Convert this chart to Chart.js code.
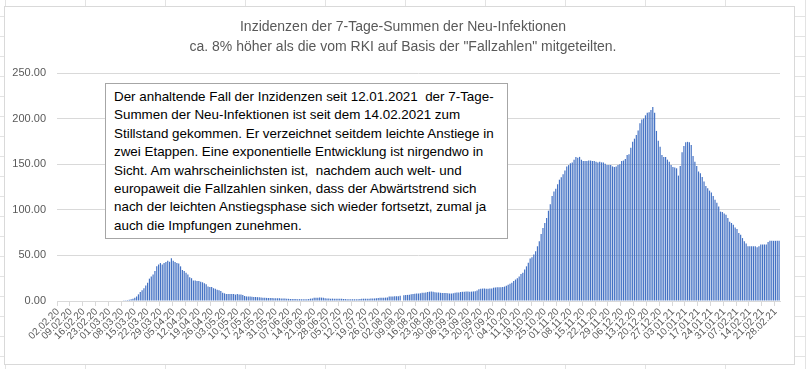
<!DOCTYPE html>
<html lang="de">
<head>
    <meta charset="UTF-8">
    <title>Inzidenzen 7-Tage-Summen</title>
    <script src="https://cdn.jsdelivr.net/npm/chart.js"></script>
    <style>
        html, body { margin: 0; padding: 0; background: #fff; }
        #page {
            position: relative; width: 806px; height: 369px; overflow: hidden;
            background-color: #fff;
            background-image:
                linear-gradient(to right, #e3e3e3 1px, transparent 1px),
                linear-gradient(to bottom, #e3e3e3 1px, transparent 1px);
            background-size: 80px 20px;
            background-position: 5px 16px;
        }
        #frame {
            position: absolute; left: 4px; top: 6px; width: 789px; height: 357px;
            background: #fff; border: 1px solid #d9d9d9;
        }
        #chartWrap { position: absolute; left: 0; top: 0; width: 806px; height: 369px; }
        .title {
            position: absolute; left: 0; width: 806px; text-align: center; line-height: 18px;
            font-family: "Liberation Sans", Arial, sans-serif; font-size: 14px; color: #595959;
        }
        #note {
            position: absolute; left: 105px; top: 83px; width: 393px; height: 150px;
            border: 1px solid #a6a6a6; background: #fff;
            padding: 4px 0 0 8px;
            font-family: "Liberation Sans", Arial, sans-serif; font-size: 13.4px; line-height: 18.4px;
            color: #000; white-space: pre;
        }
    </style>
</head>
<body>
<div id="page">
    <div id="frame"></div>
    <div id="chartWrap"><canvas id="incidenceChart" width="806" height="369"></canvas></div>
    <div class="title" style="top:17px">Inzidenzen der 7-Tage-Summen der Neu-Infektionen</div>
    <div class="title" style="top:37px">ca. 8% höher als die vom RKI auf Basis der "Fallzahlen" mitgeteilten.</div>
    <div id="note">Der anhaltende Fall der Inzidenzen seit 12.01.2021  der 7-Tage-
Summen der Neu-Infektionen ist seit dem 14.02.2021 zum
Stillstand gekommen. Er verzeichnet seitdem leichte Anstiege in
zwei Etappen. Eine exponentielle Entwicklung ist nirgendwo in
Sicht. Am wahrscheinlichsten ist,  nachdem auch welt- und
europaweit die Fallzahlen sinken, dass der Abwärtstrend sich
nach der leichten Anstiegsphase sich wieder fortsetzt, zumal ja
auch die Impfungen zunehmen.</div>
</div>

<script>
    // first day of the series, one bar per day
    const startDate = Date.UTC(2020, 1, 2);

    // 02.02.20 - 08.03.20
    const febMar = [0, 0, 0, 0, 0, 0, 0, 0, 0, 0, 0, 0, 0, 0, 0, 0, 0, 0,
        0, 0, 0, 0, 0, 0, 0, 0, 0, 0, 0, 0, 0, 0, 0, 0, 0, 0];
    // 09.03.20 - 15.05.20 (first wave)
    const spring = [0.7, 0.7, 1.0, 1.5, 1.8, 2.5, 3.6, 5.0, 7.3, 10.0,
        11.7, 14, 17, 20, 24.5, 27, 29, 33, 38, 40,
        41.6, 40, 41.6, 42.7, 44, 43, 46.8, 44, 42.7, 41.6,
        41, 38, 34, 33, 31, 29, 26, 25, 22.6, 22.6,
        22, 22, 21, 20.5, 19.4, 18.3, 16, 15.3, 15.3, 14,
        13.5, 12.4, 11.7, 11, 9, 8.4, 7.7, 7.7, 7.7, 7.7,
        7.7, 7, 7.7, 7, 7, 6.6, 5.5, 5, 5];
    // 16.05.20 - 17.09.20
    const summer = [4.8, 4.6, 4.4, 4.4, 4.2, 4.0, 3.8, 3.6, 3.5, 3.4, 3.3, 3.3, 3.2, 3.1, 3.0, 3.0, 2.9, 2.8, 2.8, 2.7, 2.6,
        2.4, 2.3, 2.3, 2.2, 2.1, 2.0, 2.0,
        1.9, 1.9, 1.9, 2.0, 2.2,
        2.6, 2.7,
        3.6, 3.7, 3.7, 3.8, 3.7, 3.6,
        3.0, 2.8, 2.7, 2.6, 2.6, 2.5, 2.5, 2.5, 2.4, 2.4,
        2.2, 2.1, 2.0, 2.0, 1.9, 1.9, 1.9, 2.0, 2.0, 2.1,
        2.4, 2.5, 2.5, 2.6, 2.6, 2.7, 2.7, 2.8, 2.9,
        3.4, 3.5, 3.6, 3.6, 3.7, 3.8,
        4.8, 5.0, 5.0, 5.1, 5.2, 5.2, 5.8,
        0,
        6.4, 6.6, 6.7, 6.8,
        7.5, 7.8, 8.0, 8.1, 8.2, 8.4,
        9.0, 9.1, 9.2,
        10.0, 10.2, 10.3, 10.2,
        9.6, 9.3, 9.2, 9.0,
        8.9, 8.8, 8.7, 8.6,
        8.3, 8.2, 8.4,
        9.0, 9.2, 9.4, 9.8,
        10.1, 10.2, 10.3, 10.3, 10.2, 10.3, 10.5, 10.8, 11.5];
    // 18.09.20 - 22.12.20 (second wave)
    const autumn = [13.0, 13.4, 13.6, 13.6, 13.5, 13.5, 13.6, 13.8,
        14.6, 14.9, 15.0, 15.0, 15.2, 15.4, 15.8,
        16.8, 17.8, 18.8, 20.0, 22.0,
        23.5, 25.0, 27.0, 29.5, 31.0, 34.5, 38.0, 42.0,
        46.5, 48, 51, 54.5, 60, 65.5, 73.5, 80, 85.5, 91,
        99, 106, 115, 120, 123, 128, 133, 135.6, 139, 143,
        147.6, 149, 151, 152, 155, 158, 157, 158, 155, 153.5,
        153.5, 153.5, 154, 154, 153.5, 153.5, 152.7, 152, 152.7, 152, 152, 150.5,
        149, 149, 149, 147.6, 147, 147.6, 149, 150, 153.5, 154,
        155.6, 160, 161, 168, 174.5, 178, 182, 187, 195, 199,
        200, 203.6, 206.5, 207, 209.5, 212.7];
    // 23.12.20 - 02.03.21
    const winter = [206.5, 186.5, 175.6, 169, 160, 158, 158, 155, 152.7, 149,
        147, 146.5, 145.5, 137.5, 148, 163, 170, 174, 174.5, 174,
        171, 159, 152.7, 148, 142, 140, 136, 131, 126, 123.6,
        121, 119, 115, 111, 107.6, 103.6, 98, 97.5, 96, 94.5,
        91, 87, 85.5, 83.6, 80.7, 79, 74.5, 72.7, 69, 65.5,
        63, 60, 60, 60, 60, 60, 59, 60, 62, 62,
        62, 62, 64.7, 66, 66, 66, 66, 66, 66];

    const incidence = [].concat(febMar, spring, summer, autumn, winter);

    function fmtDate(ms) {
        const d = new Date(ms);
        const dd = String(d.getUTCDate()).padStart(2, '0');
        const mm = String(d.getUTCMonth() + 1).padStart(2, '0');
        const yy = String(d.getUTCFullYear()).slice(2);
        return `${dd}.${mm}.${yy}`;
    }
    const days = incidence.map((v, i) => fmtDate(startDate + i * 86400000));

    const gray = '#595959';
    const gridGray = '#d9d9d9';
    const fontFamily = '"Liberation Sans", Arial, sans-serif';

    const ctx = document.getElementById('incidenceChart').getContext('2d');
    new Chart(ctx, {
        type: 'bar',
        data: {
            labels: days,
            datasets: [{
                label: 'Inzidenz',
                data: incidence,
                backgroundColor: '#4472C4',
                borderWidth: 0,
                categoryPercentage: 1.0,
                barPercentage: 0.65
            }]
        },
        options: {
            responsive: false,
            animation: false,
            layout: { padding: { top: 73, right: 26, left: 0, bottom: 0 } },
            plugins: {
                legend: { display: false },
                tooltip: { enabled: false }
            },
            scales: {
                x: {
                    type: 'category',
                    afterFit: (scale) => { scale.height = 68; },
                    grid: {
                        drawOnChartArea: false,
                        tickLength: 5,
                        color: (c) => (c.index % 7 === 0 ? gridGray : 'rgba(0,0,0,0)')
                    },
                    border: { color: gridGray },
                    ticks: {
                        autoSkip: false,
                        maxRotation: 45,
                        minRotation: 45,
                        padding: 0,
                        color: gray,
                        font: { family: fontFamily, size: 10 },
                        callback: function (value, index) {
                            return index % 7 === 0 ? this.getLabelForValue(value) : '';
                        }
                    }
                },
                y: {
                    min: 0,
                    max: 250,
                    afterFit: (scale) => { scale.width = 57; },
                    grid: { color: gridGray, drawTicks: false },
                    border: { display: false },
                    ticks: {
                        stepSize: 50,
                        padding: 11,
                        color: gray,
                        font: { family: fontFamily, size: 11 },
                        callback: (v) => v.toFixed(2)
                    }
                }
            }
        }
    });
</script>
</body>
</html>
